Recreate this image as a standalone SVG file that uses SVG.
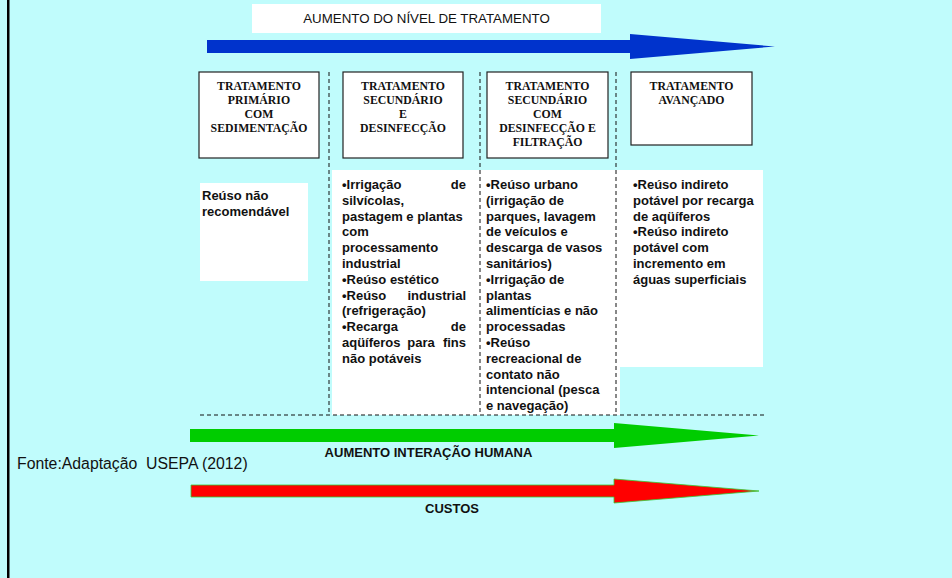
<svg xmlns="http://www.w3.org/2000/svg" width="952" height="578" viewBox="0 0 952 578">
  <style>
    .hdr { fill: #ffffff; stroke: #222222; stroke-width: 1.2; }
    .hdrtxt { font-family: "Liberation Serif", "Times New Roman", serif; font-weight: bold; font-size: 11.8px; fill: #111111; text-anchor: middle; }
    .body { font-family: "Liberation Sans", Arial, sans-serif; font-weight: bold; font-size: 13px; fill: #111111; }
    .end { text-anchor: end; }
    .mid { text-anchor: middle; }
    .pane { fill: #ffffff; }
    .dash { stroke: #111111; stroke-width: 1; stroke-dasharray: 4 3; fill: none; }
  </style>

  <!-- backdrop and left frame edge -->
  <rect x="0" y="0" width="952" height="578" fill="#c0fcfc"/>
  <rect x="7" y="0" width="2.5" height="578" fill="#000000"/>

  <!-- heading above the blue arrow -->
  <g id="titulo">
    <rect x="252" y="4" width="349" height="29" fill="#ffffff"/>
    <text x="426.5" y="22.5" font-family="Liberation Sans, Arial, sans-serif" font-size="13.3" fill="#111111" text-anchor="middle">AUMENTO DO NÍVEL DE TRATAMENTO</text>
  </g>

  <!-- white panels behind the use lists -->
  <rect class="pane" x="200" y="183" width="108" height="98"/>
  <rect class="pane" x="332" y="170" width="288" height="245"/>
  <rect class="pane" x="620" y="170" width="143" height="197"/>

  <!-- dashed column dividers -->
  <g id="divisores">
    <line class="dash" x1="329" y1="72" x2="329" y2="414"/>
    <line class="dash" x1="480" y1="72" x2="480" y2="414"/>
    <line class="dash" x1="616" y1="72" x2="616" y2="414"/>
    <line class="dash" x1="200" y1="415" x2="765" y2="415"/>
  </g>

  <!-- treatment levels -->
  <g id="primario">
    <rect class="hdr" x="199" y="72" width="120" height="86"/>
    <text class="hdrtxt" x="259" y="89.5">TRATAMENTO</text>
    <text class="hdrtxt" x="259" y="103.5">PRIMÁRIO</text>
    <text class="hdrtxt" x="259" y="118">COM</text>
    <text class="hdrtxt" x="259" y="132">SEDIMENTAÇÃO</text>
  </g>
  <g id="secundario">
    <rect class="hdr" x="343" y="72" width="120" height="86"/>
    <text class="hdrtxt" x="403" y="89.5">TRATAMENTO</text>
    <text class="hdrtxt" x="403" y="103.5">SECUNDÁRIO</text>
    <text class="hdrtxt" x="403" y="118">E</text>
    <text class="hdrtxt" x="403" y="132">DESINFECÇÃO</text>
  </g>
  <g id="secundario-filtracao">
    <rect class="hdr" x="487" y="72" width="121" height="86"/>
    <text class="hdrtxt" x="547.5" y="89.5">TRATAMENTO</text>
    <text class="hdrtxt" x="547.5" y="103.5">SECUNDÁRIO</text>
    <text class="hdrtxt" x="547.5" y="118">COM</text>
    <text class="hdrtxt" x="547.5" y="132">DESINFECÇÃO E</text>
    <text class="hdrtxt" x="547.5" y="146">FILTRAÇÃO</text>
  </g>
  <g id="avancado">
    <rect class="hdr" x="631" y="72" width="121" height="73"/>
    <text class="hdrtxt" x="691.5" y="89.5">TRATAMENTO</text>
    <text class="hdrtxt" x="691.5" y="103.5">AVANÇADO</text>
  </g>

  <!-- reuse lists -->
  <g id="usos-primario" class="body">
    <text x="202" y="200">Reúso não</text>
    <text x="202" y="215.5">recomendável</text>
  </g>
  <g id="usos-secundario" class="body">
    <text x="342" y="189">•Irrigação</text><text class="end" x="466" y="189">de</text>
    <text x="342" y="204.8">silvícolas,</text>
    <text x="342" y="220.6">pastagem e plantas</text>
    <text x="342" y="236.4">com</text>
    <text x="342" y="252.2">processamento</text>
    <text x="342" y="268">industrial</text>
    <text x="342" y="283.8">•Reúso estético</text>
    <text x="342" y="299.6">•Reúso</text><text class="end" x="466" y="299.6">industrial</text>
    <text x="342" y="315.4">(refrigeração)</text>
    <text x="342" y="331.2">•Recarga</text><text class="end" x="466" y="331.2">de</text>
    <text x="342" y="347">aqüíferos</text><text class="mid" x="421" y="347">para</text><text class="end" x="466" y="347">fins</text>
    <text x="342" y="362.8">não potáveis</text>
  </g>
  <g id="usos-filtracao" class="body">
    <text x="486" y="189">•Reúso urbano</text>
    <text x="486" y="204.8">(irrigação de</text>
    <text x="486" y="220.6">parques, lavagem</text>
    <text x="486" y="236.4">de veículos e</text>
    <text x="486" y="252.2">descarga de vasos</text>
    <text x="486" y="268">sanitários)</text>
    <text x="486" y="283.8">•Irrigação de</text>
    <text x="486" y="299.6">plantas</text>
    <text x="486" y="315.4">alimentícias e não</text>
    <text x="486" y="331.2">processadas</text>
    <text x="486" y="347">•Reúso</text>
    <text x="486" y="362.8">recreacional de</text>
    <text x="486" y="378.6">contato não</text>
    <text x="486" y="394.4">intencional (pesca</text>
    <text x="486" y="410.2">e navegação)</text>
  </g>
  <g id="usos-avancado" class="body">
    <text x="633" y="189">•Reúso indireto</text>
    <text x="633" y="204.8">potável por recarga</text>
    <text x="633" y="220.6">de aqüíferos</text>
    <text x="633" y="236.4">•Reúso indireto</text>
    <text x="633" y="252.2">potável com</text>
    <text x="633" y="268">incremento em</text>
    <text x="633" y="283.8">águas superficiais</text>
  </g>

  <!-- trend arrows -->
  <g id="setas">
    <polygon fill="#0033cc" points="207,40 630,40 630,34 775,46.5 630,59 630,53 207,53"/>
    <polygon fill="#00cc00" points="190,429 614,429 614,423 759,435.5 614,448 614,442 190,442"/>
    <polygon fill="#ff0000" stroke="#33cc33" stroke-width="0.8" points="191,485 614,485 614,479 759,491 614,503 614,497 191,497"/>
  </g>

  <!-- arrow captions and source -->
  <text x="428.5" y="457" font-family="Liberation Sans, Arial, sans-serif" font-weight="bold" font-size="13" fill="#111111" text-anchor="middle">AUMENTO INTERAÇÃO HUMANA</text>
  <text x="452" y="513" font-family="Liberation Sans, Arial, sans-serif" font-weight="bold" font-size="13" fill="#111111" text-anchor="middle">CUSTOS</text>
  <text x="17" y="468.5" font-family="Liberation Sans, Arial, sans-serif" font-size="15.8" fill="#111111" xml:space="preserve">Fonte:Adaptação  USEPA (2012)</text>
</svg>
